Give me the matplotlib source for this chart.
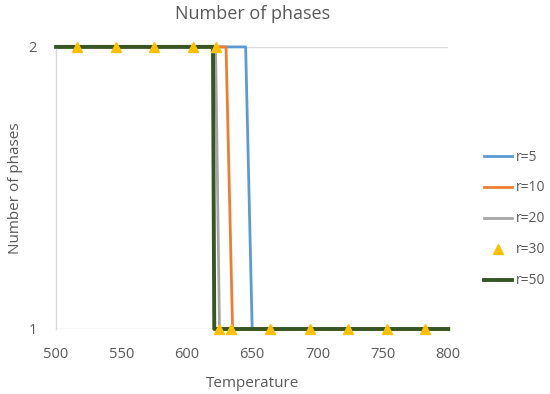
import matplotlib
matplotlib.use('Agg')
import matplotlib.pyplot as plt

# ---- data ------------------------------------------------------------------
temp_r5 = [500, 645, 650, 800]
phases_r5 = [2, 2, 1, 1]

temp_r10 = [500, 630, 635, 800]
phases_r10 = [2, 2, 1, 1]

temp_r20 = [500, 622, 625, 800]
phases_r20 = [2, 2, 1, 1]

temp_r30 = [516, 546, 575, 605, 622, 625, 634, 664, 694, 723, 753, 782]
phases_r30 = [2, 2, 2, 2, 2, 1, 1, 1, 1, 1, 1, 1]

temp_r50 = [500, 620, 621, 800]
phases_r50 = [2, 2, 1, 1]

x_ticks = [500, 550, 600, 650, 700, 750, 800]
y_ticks = [1, 2]

TEXT = '#595959'
GRID = '#D9D9D9'

plt.rcParams['font.family'] = ['Open Sans', 'DejaVu Sans']

fig = plt.figure(figsize=(5.5, 3.94), dpi=100)
ax = fig.add_axes([0.102, 0.165, 0.713, 0.716])

for y in y_ticks:
    ax.axhline(y, color=GRID, lw=1.0, zorder=0)

ax.plot(temp_r5, phases_r5, color='#5B9BD5', lw=2.0, label='r=5', clip_on=False, zorder=2)
ax.plot(temp_r10, phases_r10, color='#ED7D31', lw=2.0, label='r=10', clip_on=False, zorder=3)
ax.plot(temp_r20, phases_r20, color='#A5A5A5', lw=2.0, label='r=20', clip_on=False, zorder=4)
ax.plot(temp_r30, phases_r30, ls='none', marker='^', ms=7, color='#FFC000',
        label='r=30', clip_on=False, zorder=6)
ax.plot(temp_r50, phases_r50, color='#375623', lw=2.8, label='r=50', clip_on=False, zorder=5)

ax.set_xlim(500, 800)
ax.set_ylim(1, 2)
ax.set_xticks(x_ticks)
ax.set_yticks(y_ticks)

for side in ['top', 'right', 'bottom']:
    ax.spines[side].set_visible(False)
ax.spines['left'].set_color(GRID)
ax.spines['left'].set_linewidth(1.0)
ax.tick_params(length=0, colors=TEXT, labelsize=10.5)
ax.tick_params(axis='x', pad=13)
ax.tick_params(axis='y', pad=14)

ax.set_title('Number of phases', color=TEXT, fontsize=13, pad=20)
ax.set_xlabel('Temperature', color=TEXT, fontsize=11, labelpad=10)
ax.set_ylabel('Number of phases', color=TEXT, fontsize=11, labelpad=4)

leg = ax.legend(loc='center left', bbox_to_anchor=(1.06, 0.39), frameon=False,
                fontsize=10, labelspacing=1.15, handlelength=2.0, handletextpad=0.3,
                labelcolor=TEXT)

fig.savefig('out.png', dpi=100)
